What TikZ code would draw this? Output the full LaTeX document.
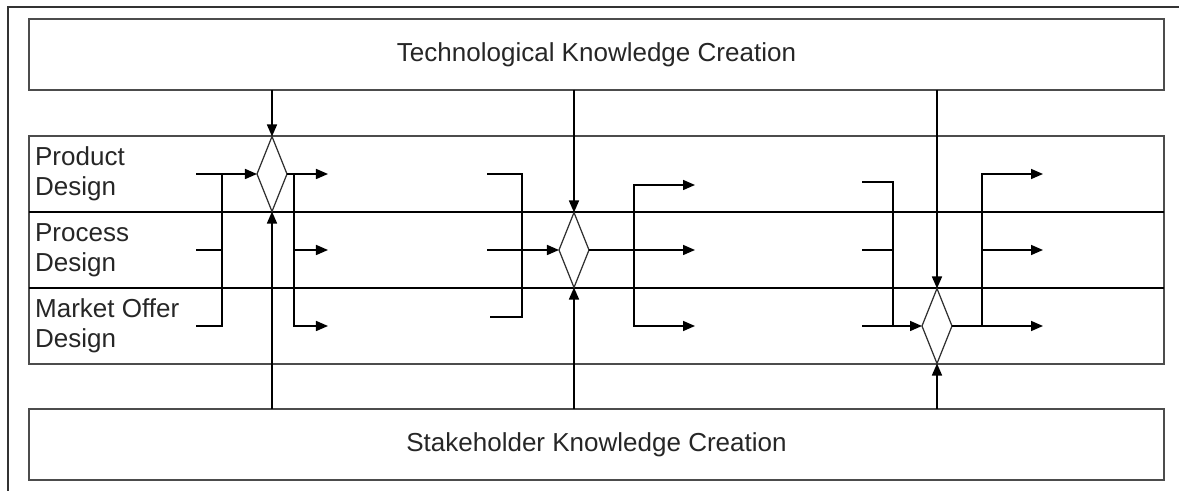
\documentclass[tikz,border=0pt]{standalone}
\usepackage{fontspec}
\setmainfont{Liberation Sans}
\usepackage{tikz}
\usetikzlibrary{shapes.geometric, arrows.meta, positioning, fit, calc}

\begin{document}
\begin{tikzpicture}[x=0.025cm, y=-0.025cm,
  font=\fontsize{18.5}{21.3}\selectfont,
  box/.style={rectangle, draw=black!70, line width=1.5pt, minimum width=28.375cm, minimum height=1.775cm, inner sep=0, outer sep=0, text=black!85},
  lane/.style={rectangle, minimum width=28.375cm, minimum height=1.9cm, inner sep=0, outer sep=0},
  lanelabel/.style={anchor=west, align=left, inner xsep=0.15cm, inner ysep=0, text=black!85},
  divider/.style={draw=black, line width=0.8pt},
  gate/.style={diamond, draw=black!80, line width=0.9pt, minimum width=0.75cm, minimum height=1.875cm, inner sep=0, outer sep=0},
  wire/.style={draw=black, line width=1.1pt},
  flow/.style={wire, -{Triangle[length=0.3cm, width=0.25cm]}}]
  \useasboundingbox (0,0) rectangle (1179,491);
  % frame
  \draw[black!80, line width=1.5pt] (8,491) -- (8,7) -- (1179,7);
\node[lane] (product) at (596.5,174) {};
\node[lane, below=0cm of product] (process) {};
\node[lane, below=0cm of process] (market) {};
\node[box, fit={(product) (market)}] (design) {};
\node[box, above=1.15cm of product] (tech) {Technological Knowledge Creation};
\node[box, below=1.125cm of market] (stake) {Stakeholder Knowledge Creation};
  \draw[divider] (product.south west) -- (product.south east);
  \draw[divider] (process.south west) -- (process.south east);
\node[lanelabel] (product_label) at (product.west) {Product\\Design};
\node[lanelabel] (process_label) at (process.west) {Process\\Design};
\node[lanelabel] (market_label) at (market.west) {Market Offer\\Design};
  % gates
\node[gate] (d1) at (272,174) {};
\node[gate] (d2) at (574,250) {};
\node[gate] (d3) at (937,326) {};
  \draw[flow] (tech.south -| d1.north) -- (d1.north);
  \draw[flow] (stake.north -| d1.south) -- (d1.south);
  \draw[flow] (tech.south -| d2.north) -- (d2.north);
  \draw[flow] (stake.north -| d2.south) -- (d2.south);
  \draw[flow] (tech.south -| d3.north) -- (d3.north);
  \draw[flow] (stake.north -| d3.south) -- (d3.south);
  % first gate
\coordinate (d1_in1) at (196,174);
\coordinate (d1_in2) at (196,250);
\coordinate (d1_in3) at (196,326);
\coordinate (d1_join) at (222,174);
\coordinate (d1_split) at (294,174);
\coordinate (d1_out1) at (328,174);
\coordinate (d1_out2) at (328,250);
\coordinate (d1_out3) at (328,326);
  \draw[flow] (d1_in1) -- (d1.west);
  \draw[wire] (d1_in3) -| (d1_join);
  \draw[wire] (d1_in2) -- (d1_in2 -| d1_join);
  \draw[flow] (d1.east) -- (d1_out1);
  \draw[flow] (d1_split) |- (d1_out3);
  \draw[flow] (d1_split |- d1_out2) -- (d1_out2);
  % second gate
\coordinate (d2_in1) at (487,174);
\coordinate (d2_in2) at (487,250);
\coordinate (d2_in3) at (490,317);
\coordinate (d2_bar) at (522,174);
\coordinate (d2_split) at (634,250);
\coordinate (d2_out1) at (695,185);
\coordinate (d2_out2) at (695,250);
\coordinate (d2_out3) at (695,326);
  \draw[wire] (d2_in1) -- (d2_bar) |- (d2_in3);
  \draw[flow] (d2_in2) -- (d2.west);
  \draw[flow] (d2.east) -- (d2_out2);
  \draw[flow] (d2_split) |- (d2_out1);
  \draw[flow] (d2_split) |- (d2_out3);
  % third gate
\coordinate (d3_in1) at (862,182);
\coordinate (d3_in2) at (862,250);
\coordinate (d3_in3) at (862,326);
\coordinate (d3_join) at (893,326);
\coordinate (d3_split) at (982,326);
\coordinate (d3_out1) at (1043,174);
\coordinate (d3_out2) at (1043,250);
\coordinate (d3_out3) at (1043,326);
  \draw[flow] (d3_in3) -- (d3.west);
  \draw[wire] (d3_in1) -| (d3_join);
  \draw[wire] (d3_in2) -- (d3_in2 -| d3_join);
  \draw[flow] (d3.east) -- (d3_out3);
  \draw[flow] (d3_split) |- (d3_out1);
  \draw[flow] (d3_split |- d3_out2) -- (d3_out2);
\end{tikzpicture}
\end{document}
